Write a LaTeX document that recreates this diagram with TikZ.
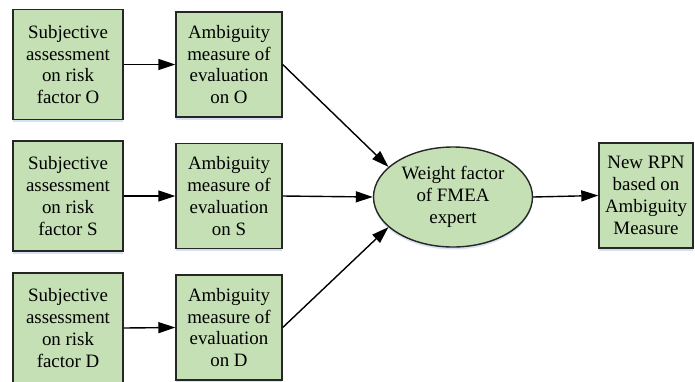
\documentclass[tikz,border=0pt]{standalone}
\usepackage{fontspec}
\setmainfont{Liberation Serif}
\usetikzlibrary{arrows.meta,shapes.geometric,shadows}
\definecolor{boxgreen}{RGB}{197,224,180}
\definecolor{glow}{RGB}{214,226,242}
\begin{document}
\begin{tikzpicture}[x=1pt,y=-1pt,
  every node/.style={font=\fontsize{18.9}{21.8}\selectfont, align=center, inner sep=0pt},
  glowy/.style={drop shadow={fill=glow, opacity=1, shadow xshift=0pt, shadow yshift=-2.5pt}},
  inbox/.style={draw=black!85, line width=1.4pt, fill=boxgreen, rectangle, minimum width=110pt, minimum height=110pt, glowy},
  ambox/.style={draw=black!85, line width=1.4pt, fill=boxgreen, rectangle, minimum width=106pt, minimum height=105pt, glowy},
  conn/.style={line width=1.4pt, -{Triangle[length=17pt,width=11pt]}}]
\useasboundingbox (0,0) rectangle (695,381);
\node[inbox] (s1) at (68,64.5) {Subjective\\assessment\\on risk\\factor O};
\node[ambox] (a1) at (229,64.5) {Ambiguity\\measure of\\evaluation\\on O};
\node[inbox] (s2) at (68,196) {Subjective\\assessment\\on risk\\factor S};
\node[ambox] (a2) at (229,196) {Ambiguity\\measure of\\evaluation\\on S};
\node[inbox] (s3) at (68,328) {Subjective\\assessment\\on risk\\factor D};
\node[ambox] (a3) at (229,327.5) {Ambiguity\\measure of\\evaluation\\on D};
\node[ellipse, draw=black!85, line width=1.4pt, fill=boxgreen, minimum width=159pt, minimum height=100pt, glowy] (w) at (453,197) {Weight factor\\of FMEA\\expert};
\node[draw=black!85, line width=1.4pt, fill=boxgreen, rectangle, minimum width=94pt, minimum height=105pt, glowy] (r) at (646,195.5) {New RPN\\based on\\Ambiguity\\Measure};
\draw[conn] (s1.east) -- (a1.west);
\draw[conn] (s2.east) -- (a2.west);
\draw[conn] (s3.east) -- (a3.west);
\draw[conn] (a1.east) -- (w.155);
\draw[conn] (a2.east) -- (w.west);
\draw[conn] (a3.east) -- (w.205);
\draw[conn] (w.east) -- (r.west);
\end{tikzpicture}
\end{document}
